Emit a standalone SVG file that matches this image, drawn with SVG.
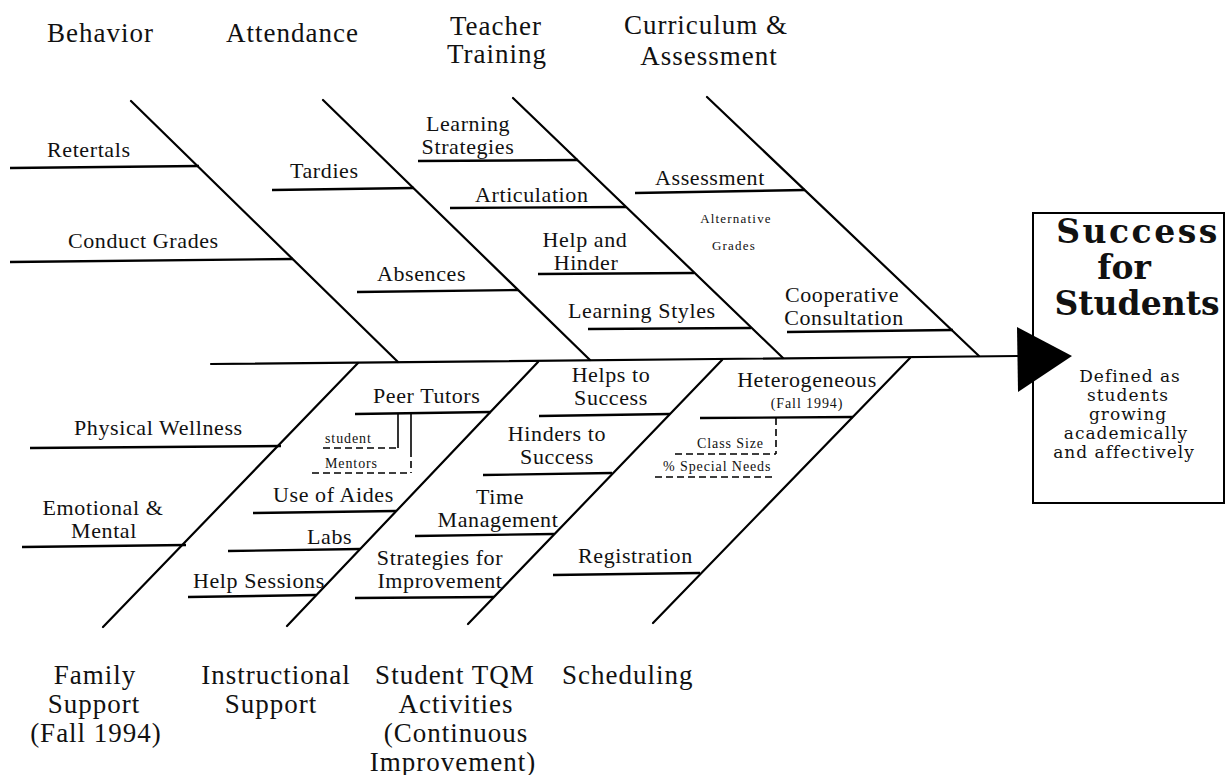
<svg xmlns="http://www.w3.org/2000/svg" width="1227" height="775" viewBox="0 0 1227 775">
  <style>
    text { font-family: "Liberation Serif", "Times New Roman", serif; fill: #111; }
    .cat { font-size: 27px; letter-spacing: 1px; }
    .lbl { font-size: 22px; letter-spacing: 0.6px; }
    .sm { font-size: 14px; letter-spacing: 0.9px; }
    .xs { font-size: 13px; letter-spacing: 1.2px; }
    .mid { text-anchor: middle; }
    .bone { stroke: #000; stroke-width: 2.2; fill: none; stroke-linecap: round; }
    .twig { stroke: #000; stroke-width: 2.4; fill: none; }
    .thin { stroke: #000; stroke-width: 1.6; fill: none; }
    .dash { stroke: #000; stroke-width: 1.6; fill: none; stroke-dasharray: 7 4; }
    .title { font-family: "DejaVu Serif", "Liberation Serif", serif; font-weight: bold; font-size: 33px; text-anchor: middle; }
    .desc { font-family: "DejaVu Serif", "Liberation Serif", serif; font-size: 17px; letter-spacing: 1px; text-anchor: middle; }
  </style>
  <rect width="1227" height="775" fill="#fff"/>

  <!-- spine, arrowhead and category bones -->
  <g id="connectors">
    <line class="bone" x1="211" y1="364" x2="1018" y2="356"/>
    <polygon points="1017,327 1072,356 1018,392" fill="#000"/>
    <line class="bone" x1="131" y1="101" x2="398" y2="362"/>
    <line class="bone" x1="323" y1="100" x2="590" y2="360"/>
    <line class="bone" x1="513" y1="98" x2="783" y2="358"/>
    <line class="bone" x1="707" y1="97" x2="979" y2="356"/>
    <line class="bone" x1="358" y1="363" x2="103" y2="627"/>
    <line class="bone" x1="538" y1="362" x2="287" y2="626"/>
    <line class="bone" x1="722" y1="360" x2="468" y2="624"/>
    <line class="bone" x1="910" y1="358" x2="653" y2="623"/>
  </g>

  <!-- effect -->
  <g id="effect">
    <rect x="1033" y="213" width="191" height="290" fill="none" stroke="#000" stroke-width="2"/>
    <text class="title" x="1138" y="243" letter-spacing="2.5">Success</text>
    <text class="title" x="1124" y="279">for</text>
    <text class="title" x="1137" y="315">Students</text>
    <text class="desc" x="1130" y="382">Defined as</text>
    <text class="desc" x="1128" y="401">students</text>
    <text class="desc" x="1128" y="420">growing</text>
    <text class="desc" x="1126" y="439">academically</text>
    <text class="desc" x="1124" y="458">and affectively</text>
  </g>

  <g id="behavior">
    <text class="cat" x="47" y="42">Behavior</text>
    <line class="twig" x1="10" y1="168" x2="199" y2="166"/>
    <text class="lbl" x="47" y="157">Retertals</text>
    <line class="twig" x1="10" y1="262" x2="293" y2="259"/>
    <text class="lbl" x="68" y="248">Conduct Grades</text>
  </g>

  <g id="attendance">
    <text class="cat" x="226" y="42">Attendance</text>
    <line class="twig" x1="272" y1="190" x2="414" y2="188"/>
    <text class="lbl" x="290" y="178">Tardies</text>
    <line class="twig" x1="357" y1="292" x2="518" y2="290"/>
    <text class="lbl" x="377" y="281">Absences</text>
  </g>

  <g id="teacher-training">
    <text class="cat mid" x="496" y="35">Teacher</text>
    <text class="cat mid" x="497" y="63">Training</text>
    <line class="twig" x1="418" y1="161" x2="578" y2="160"/>
    <text class="lbl mid" x="468" y="131">Learning</text>
    <text class="lbl mid" x="468" y="154">Strategies</text>
    <line class="twig" x1="450" y1="208" x2="626" y2="207"/>
    <text class="lbl" x="475" y="202">Articulation</text>
    <line class="twig" x1="538" y1="274" x2="694" y2="273"/>
    <text class="lbl mid" x="585" y="247">Help and</text>
    <text class="lbl mid" x="586" y="270">Hinder</text>
    <line class="twig" x1="588" y1="329" x2="751" y2="328"/>
    <text class="lbl" x="568" y="318">Learning Styles</text>
  </g>

  <g id="curriculum-assessment">
    <text class="cat mid" x="706" y="34">Curriculum &amp;</text>
    <text class="cat mid" x="709" y="65">Assessment</text>
    <line class="twig" x1="635" y1="193" x2="805" y2="190"/>
    <text class="lbl" x="655" y="185">Assessment</text>
    <text class="xs mid" x="736" y="223">Alternative</text>
    <text class="xs mid" x="734" y="250">Grades</text>
    <line class="twig" x1="787" y1="332" x2="953" y2="330"/>
    <text class="lbl mid" x="842" y="302">Cooperative</text>
    <text class="lbl mid" x="844" y="325">Consultation</text>
  </g>

  <g id="family-support">
    <text class="cat mid" x="95" y="684">Family</text>
    <text class="cat mid" x="94" y="713">Support</text>
    <text class="cat mid" x="96" y="742">(Fall 1994)</text>
    <line class="twig" x1="30" y1="448" x2="281" y2="446"/>
    <text class="lbl" x="74" y="435">Physical Wellness</text>
    <line class="twig" x1="22" y1="547" x2="186" y2="545"/>
    <text class="lbl mid" x="103" y="515">Emotional &amp;</text>
    <text class="lbl mid" x="104" y="538">Mental</text>
  </g>

  <g id="instructional-support">
    <text class="cat mid" x="276" y="684">Instructional</text>
    <text class="cat mid" x="271" y="713">Support</text>
    <line class="twig" x1="355" y1="414" x2="491" y2="412"/>
    <text class="lbl" x="373" y="403">Peer Tutors</text>
    <line class="thin" x1="398" y1="414" x2="398" y2="448"/>
    <line class="dash" x1="323" y1="448" x2="398" y2="448"/>
    <text class="sm" x="325" y="443">student</text>
    <line class="thin" x1="411" y1="414" x2="411" y2="450"/>
    <line class="dash" x1="411" y1="450" x2="411" y2="473"/>
    <line class="dash" x1="312" y1="473" x2="411" y2="473"/>
    <text class="sm" x="325" y="468">Mentors</text>
    <line class="twig" x1="253" y1="513" x2="396" y2="511"/>
    <text class="lbl" x="273" y="502">Use of Aides</text>
    <line class="twig" x1="228" y1="551" x2="360" y2="549"/>
    <text class="lbl" x="307" y="544">Labs</text>
    <line class="twig" x1="188" y1="597" x2="316" y2="595"/>
    <text class="lbl" x="193" y="588">Help Sessions</text>
  </g>

  <g id="student-tqm">
    <text class="cat mid" x="455" y="684">Student TQM</text>
    <text class="cat mid" x="456" y="713">Activities</text>
    <text class="cat mid" x="456" y="742">(Continuous</text>
    <text class="cat mid" x="453" y="771">Improvement)</text>
    <line class="twig" x1="539" y1="416" x2="670" y2="414"/>
    <text class="lbl mid" x="611" y="382">Helps to</text>
    <text class="lbl mid" x="611" y="405">Success</text>
    <line class="twig" x1="483" y1="475" x2="612" y2="473"/>
    <text class="lbl mid" x="557" y="441">Hinders to</text>
    <text class="lbl mid" x="557" y="464">Success</text>
    <line class="twig" x1="415" y1="536" x2="554" y2="534"/>
    <text class="lbl mid" x="500" y="504">Time</text>
    <text class="lbl mid" x="498" y="527">Management</text>
    <line class="twig" x1="355" y1="598" x2="494" y2="597"/>
    <text class="lbl mid" x="440" y="565">Strategies for</text>
    <text class="lbl mid" x="440" y="588">Improvement</text>
  </g>

  <g id="scheduling">
    <text class="cat" x="562" y="684">Scheduling</text>
    <line class="twig" x1="700" y1="418" x2="853" y2="417"/>
    <text class="lbl mid" x="807" y="387" letter-spacing="1.2">Heterogeneous</text>
    <text class="sm mid" x="807" y="408">(Fall 1994)</text>
    <line class="dash" x1="776" y1="418" x2="776" y2="454"/>
    <line class="dash" x1="675" y1="454" x2="776" y2="454"/>
    <text class="sm" x="697" y="448">Class Size</text>
    <line class="dash" x1="655" y1="477" x2="773" y2="477"/>
    <text class="sm" x="663" y="471">% Special Needs</text>
    <line class="twig" x1="553" y1="575" x2="700" y2="573"/>
    <text class="lbl" x="578" y="563">Registration</text>
  </g>
</svg>
